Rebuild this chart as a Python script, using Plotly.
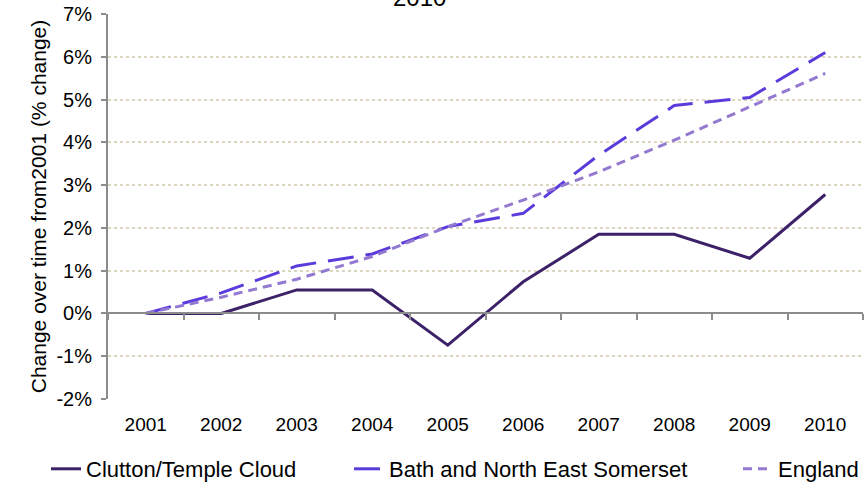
import plotly.graph_objects as go

years = ["2001", "2002", "2003", "2004", "2005", "2006", "2007", "2008", "2009", "2010"]
clutton = [0.0, 0.0, 0.55, 0.55, -0.74, 0.74, 1.85, 1.85, 1.29, 2.78]
banes = [0.0, 0.48, 1.11, 1.39, 2.03, 2.34, 3.70, 4.86, 5.05, 6.10]
england = [0.0, 0.38, 0.80, 1.33, 2.03, 2.65, 3.31, 4.05, 4.83, 5.61]
y_ticks = [-2, -1, 0, 1, 2, 3, 4, 5, 6, 7]
y_labels = [f"{v}%" for v in y_ticks]

FONT = "Liberation Sans, Arial, sans-serif"

fig = go.Figure()
fig.add_trace(go.Scatter(x=years, y=clutton, mode="lines", name="Clutton/Temple Cloud",
                         line=dict(color="#3d2269", width=3), legend="legend",
                         xaxis="x2"))
fig.add_trace(go.Scatter(x=years, y=banes, mode="lines", name="Bath and North East Somerset",
                         line=dict(color="#5b3bdb", width=3, dash="26px,12px"), legend="legend2",
                         xaxis="x2"))
fig.add_trace(go.Scatter(x=years, y=england, mode="lines", name="England",
                         line=dict(color="#9479d0", width=3, dash="9px,6px"), legend="legend3",
                         xaxis="x2"))
# invisible trace to anchor the zero-line category axis
fig.add_trace(go.Scatter(x=years, y=[None] * len(years), mode="lines", showlegend=False,
                         hoverinfo="skip", xaxis="x"))

W, H = 867, 483
t, b = 14, 84
l, r = 108, 4
plot_w = W - l - r
legend_y = (H - 469) / H


def lx(px):
    return (px - l) / plot_w


def cx(px):
    return (px - 40) / W


leg_common = dict(orientation="h", xanchor="left", yanchor="middle", xref="container",
                  yref="container", y=legend_y, font=dict(size=22),
                  bgcolor="rgba(0,0,0,0)")

fig.update_layout(
    width=W, height=H,
    margin=dict(l=l, r=r, t=t, b=b, autoexpand=False),
    paper_bgcolor="white", plot_bgcolor="white",
    font=dict(family=FONT, size=19, color="#000000"),
    xaxis=dict(type="category", categoryorder="array", categoryarray=years,
               anchor="free", position=2 / 9, overlaying="x2",
               showline=True, linecolor="#8c8c8c", linewidth=2,
               ticks="outside", ticklen=6, tickcolor="#8c8c8c", tickwidth=2,
               tickson="boundaries", showticklabels=False, showgrid=False,
               range=[-0.5, 9.5], automargin=False),
    xaxis2=dict(type="category", categoryorder="array", categoryarray=years,
                anchor="y", showline=False, ticks="", showgrid=False,
                range=[-0.5, 9.5], tickfont=dict(size=19), ticklabelstandoff=12,
                automargin=False),
    yaxis=dict(range=[-2, 7], tickvals=y_ticks, ticktext=y_labels,
               showline=True, linecolor="#8c8c8c", linewidth=2,
               ticks="outside", ticklen=5, tickcolor="#8c8c8c", tickwidth=2,
               showgrid=True, gridcolor="#ddd6bf", griddash="dot", gridwidth=2,
               zeroline=False, ticklabelstandoff=5, tickfont=dict(size=20),
               ticklabeloverflow="allow", automargin=False,
               title=dict(text="Change over time from2001 (% change)", font=dict(size=21),
                          standoff=4)),
    legend=dict(x=cx(86), **leg_common),
    legend2=dict(x=cx(389), **leg_common),
    legend3=dict(x=cx(778), **leg_common),
    showlegend=True,
    annotations=[dict(text="2010", xref="paper", yref="paper", x=lx(419), y=1,
                      xanchor="center", yanchor="bottom", yshift=1, showarrow=False,
                      font=dict(size=24))],
)

# remove the default page margin so the figure sits at the window's top-left corner
fig.write_html("out.html", config={"displayModeBar": False},
               post_script="document.body.style.margin='0px';")
